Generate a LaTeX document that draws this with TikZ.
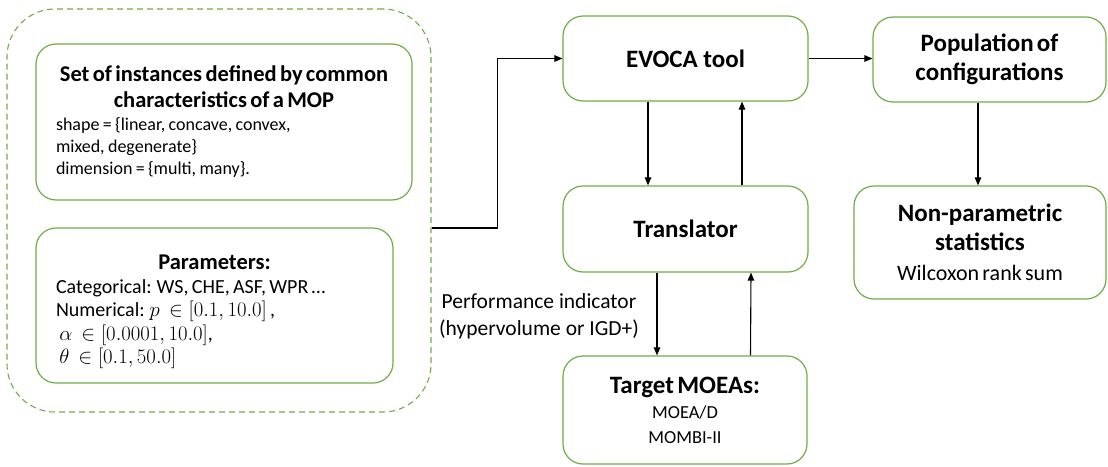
\documentclass[tikz,border=0pt]{standalone}
\usepackage{fontspec}
\setmainfont{Carlito}
\usetikzlibrary{arrows.meta}
\definecolor{boxgreen}{RGB}{112,173,71}

\newcommand{\headfont}{\fontsize{25}{28.5}\selectfont\bfseries}
\newcommand{\titlefont}{\fontsize{22.5}{26}\selectfont\bfseries}
\newcommand{\bodyfont}{\fontsize{18}{22}\selectfont}
\newcommand{\parfont}{\fontsize{20}{23.5}\selectfont}
\newcommand{\notefont}{\fontsize{21.5}{27}\selectfont}

\begin{document}
\begin{tikzpicture}[
  x=1pt, y=-1pt,
  box/.style={draw=boxgreen, line width=1.2pt, rounded corners=20pt, align=center, inner sep=0pt},
  group/.style={draw=boxgreen, line width=1.1pt, dash pattern=on 6pt off 4pt, rounded corners=48pt},
  line/.style={-{Triangle[length=8pt,width=6.5pt]}, line width=1.1pt}
]
\useasboundingbox (0,0) rectangle (1108,466);

% left group: instances and parameters
\node[group, minimum width=424pt, minimum height=403pt] (group) at (219,210.5) {};
\node[box, minimum width=376pt, minimum height=156pt, text width=336pt, align=left] (inst) at (224,122)
  {{\centering\titlefont Set of instances defined by common\\characteristics of a MOP\par}
   \vspace{1pt}
   {\bodyfont shape = \{linear, concave, convex,\\mixed, degenerate\}\\dimension = \{multi, many\}.\par}};
\node[box, minimum width=357pt, minimum height=155pt, text width=317pt, align=left] (params) at (214.5,305.5)
  {{\centering\titlefont\rule{0pt}{28pt}Parameters:\par}
   {\parfont Categorical: WS, CHE, ASF, WPR …\\
   Numerical: $p\ \in [0.1, 10.0]$ ,\\
   \ $\alpha\ \in [0.0001, 10.0]$,\\
   \ $\theta\ \in [0.1, 50.0]$\par}};

% main loop
\node[box, minimum width=245pt, minimum height=85pt] (evoca) at (685.5,58.5) {\headfont EVOCA tool};
\node[box, minimum width=245pt, minimum height=86pt] (trans) at (685.5,229) {\headfont Translator};
\node[box, minimum width=244pt, minimum height=108pt, text width=230pt] (target) at (685,410)
  {{\headfont Target MOEAs:\par}{\fontsize{18.4}{25}\selectfont MOEA/D\\MOMBI-II\par}};

% results
\node[box, minimum width=233pt, minimum height=85pt, text width=220pt] (pop) at (989.5,59.5)
  {{\headfont Population of\\configurations\par}};
\node[box, minimum width=252pt, minimum height=113pt, text width=240pt] (stats) at (980,242.5)
  {{\headfont Non-parametric\\statistics\par}{\fontsize{22}{30}\selectfont Wilcoxon rank sum\par}};

\node[align=center, font=\notefont] (perf) at (539,316.5) {Performance indicator\\(hypervolume or IGD+)};

\draw[line] ([yshift=-17.5pt]group.east) -- ++(66,0) |- (evoca.west);
\draw[line] ([xshift=-37.5pt]evoca.south) -- ([xshift=-37.5pt]trans.north);
\draw[line] ([xshift=56.5pt]trans.north) -- ([xshift=56.5pt]evoca.south);
\draw[line] ([xshift=-28.5pt]trans.south) -- ([xshift=-28pt]target.north);
\draw[line] ([xshift=65.5pt]target.north) -- ([xshift=65.5pt]trans.south);
\draw[line] (evoca.east) -- (evoca.east -| pop.west);
\draw[line] ([xshift=-11.5pt]pop.south) -- ([xshift=-11.5pt]pop.south |- stats.north);
\end{tikzpicture}
\end{document}
